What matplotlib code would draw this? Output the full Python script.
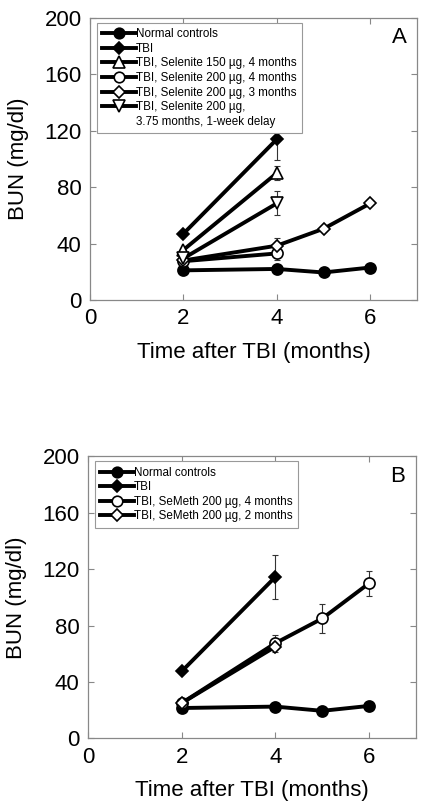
import matplotlib
matplotlib.use("Agg")
import matplotlib.pyplot as plt
from matplotlib.lines import Line2D

plt.rcParams['font.family'] = ['Liberation Sans', 'DejaVu Sans']

# ---- Panel A data ----
a_labels = ["Normal controls", "TBI", "TBI, Selenite 150 µg, 4 months",
            "TBI, Selenite 200 µg, 4 months", "TBI, Selenite 200 µg, 3 months",
            "TBI, Selenite 200 µg,"]
a_extra_label = "3.75 months, 1-week delay"
a_x = [[2, 4, 5, 6], [2, 4], [2, 4], [2, 4], [2, 4, 5, 6], [2, 4]]
a_y = [[21, 22, 19.5, 23], [47, 114], [35.5, 90], [27.5, 33], [28, 38.5, 50.5, 68.5], [29.5, 68.5]]
a_err = [[0, 0, 0, 0], [0, 15], [0, 5], [0, 5], [0, 5.5, 0, 0], [0, 8.5]]
a_markers = ['o', 'D', '^', 'o', 'D', 'v']
a_fill = ['black', 'black', 'white', 'white', 'white', 'white']

# ---- Panel B data ----
b_labels = ["Normal controls", "TBI", "TBI, SeMeth 200 µg, 4 months",
            "TBI, SeMeth 200 µg, 2 months"]
b_x = [[2, 4, 5, 6], [2, 4], [2, 4, 5, 6], [2, 4]]
b_y = [[21.5, 22.5, 19.5, 23], [47.5, 114.5], [25, 67.5, 85, 110], [25, 65]]
b_err = [[0, 0, 0, 0], [0, 15.5], [0, 6, 10, 9], [0, 0]]
b_markers = ['o', 'D', 'o', 'D']
b_fill = ['black', 'black', 'white', 'white']

xticks = [0, 2, 4, 6]
yticks = [0, 40, 80, 120, 160, 200]

fig = plt.figure(figsize=(4.24, 8.07), dpi=100)
axA = fig.add_axes([0.2123, 0.6283, 0.771, 0.3494])
axB = fig.add_axes([0.2075, 0.0851, 0.7736, 0.3494])


def msize(m):
    return {'o': 8, 'D': 6.5, '^': 8.5, 'v': 8.5}[m]


def draw(ax, labels, xs, ys, errs, markers, fills, letter, extra=None):
    handles = []
    for lab, x, y, e, m, f in zip(labels, xs, ys, errs, markers, fills):
        ex = [xi for xi, ei in zip(x, e) if ei > 0]
        ey = [yi for yi, ei in zip(y, e) if ei > 0]
        ee = [ei for ei in e if ei > 0]
        if ee:
            ax.errorbar(ex, ey, yerr=ee, fmt='none', ecolor='#333333', elinewidth=0.8,
                        capsize=2.5, capthick=0.8, zorder=2)
        h, = ax.plot(x, y, color='black', lw=2.8, marker=m, markersize=msize(m),
                     markerfacecolor=f, markeredgecolor='black', markeredgewidth=1.2,
                     zorder=3, label=lab)
        handles.append(h)
    labs = list(labels)
    if extra is not None:
        handles.append(Line2D([], [], color='none', marker=None))
        labs.append(extra)
    leg = ax.legend(handles, labs, loc='upper left', bbox_to_anchor=(0.02, 0.982),
                    fontsize=8.4, handlelength=2.9, handletextpad=0.05,
                    labelspacing=0.22, borderpad=0.45, fancybox=False,
                    numpoints=1, markerscale=0.95,
                    frameon=True, edgecolor='#999999', framealpha=1,
                    borderaxespad=0)
    leg.get_frame().set_linewidth(0.8)
    ax.set_xlim(0, 7)
    ax.set_ylim(0, 200)
    ax.set_xticks(xticks)
    ax.set_yticks(yticks)
    ax.tick_params(direction='in', top=True, right=True, length=4, width=0.8,
                   color='#888888', labelsize=16, pad=6)
    for s in ax.spines.values():
        s.set_color('#888888')
        s.set_linewidth(0.9)
    ax.set_xlabel('Time after TBI (months)', fontsize=16, labelpad=9)
    ax.set_ylabel('BUN (mg/dl)', fontsize=16, labelpad=11)
    ax.text(0.945, 0.93, letter, transform=ax.transAxes, fontsize=16,
            ha='center', va='center')


draw(axA, a_labels, a_x, a_y, a_err, a_markers, a_fill, 'A', a_extra_label)
draw(axB, b_labels, b_x, b_y, b_err, b_markers, b_fill, 'B')

fig.savefig('out.png', dpi=100)
